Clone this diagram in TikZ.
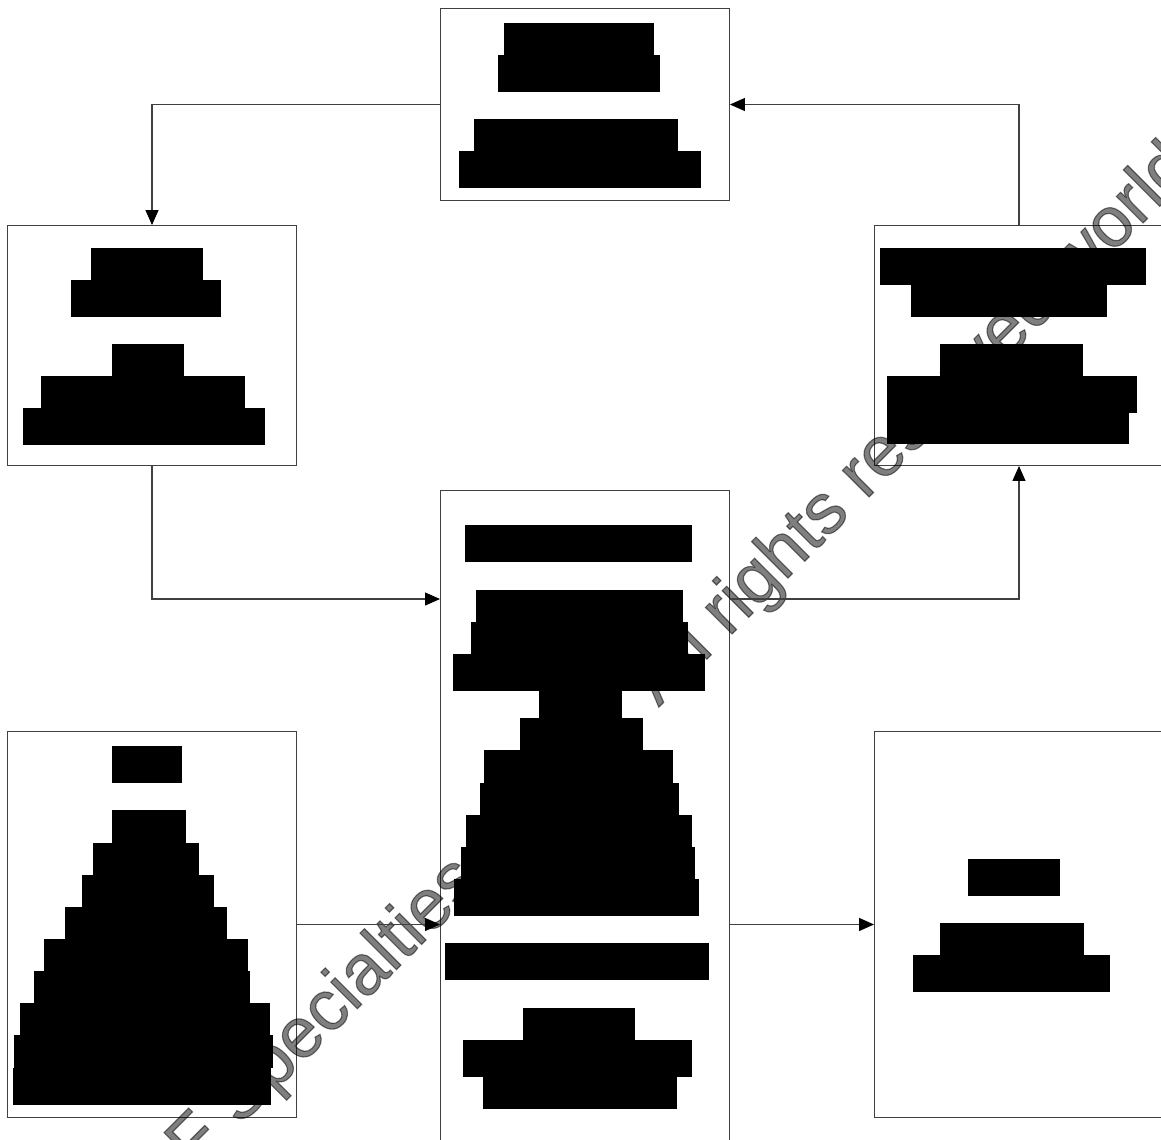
\documentclass[tikz,border=0pt]{standalone}
\usepackage{fontspec}
\usepackage{tikz}
\usetikzlibrary{
  arrows.meta,
  calc
}
\newfontfamily\wmfont[FakeBold=1.6]{Liberation Sans}

\begin{document}
\begin{tikzpicture}[
  x=0.02cm, y=-0.02cm,
  >={Triangle[length=8.5pt, width=7.4pt, color=black]},
  box/.style={draw=black!75, line width=0.6pt, fill=white, anchor=north west,
              inner sep=0pt, minimum width=5.78cm, minimum height=#1},
  box/.default=4.8cm,
  redact/.style={fill=black},
  arr/.style={->, draw=black!75, line width=0.6pt},
  wmark/.style={font=\wmfont\fontsize{40.5}{48}\selectfont, text=black,
                text opacity=0.5, inner sep=0pt, rotate=45, anchor=base west},
]
  \useasboundingbox (0,0) rectangle (1161,1140);
  \clip (0,0) rectangle (1161,1140);
  \fill[white] (0,0) rectangle (1161,1140);

  \node[box=3.84cm] (top) at (440,8) {};
  \node[box] (left) at (7,225) {};
  \node[box] (right) at (874,225) {};
  \node[box=13.6cm] (mid) at (440,490) {};
  \node[box=7.72cm] (bl) at (7,731) {};
  \node[box=7.72cm] (br) at (874,731) {};

  % watermark across the page
  \node[wmark] (wm) at (158,1208) {CF Specialties, L.L.C. All rights reserved worldwide};

  % redacted text lines
  \foreach \a/\b/\c/\d in {504/23/654/55, 498/55/660/92, 474/119/678/151, 459/151/701/188}
    \fill[redact] (\a,\b) rectangle (\c,\d);
  \foreach \a/\b/\c/\d in {91/248/203/280, 71/280/221/317, 112/344/184/376,
                           41/376/245/408, 23/408/265/445}
    \fill[redact] (\a,\b) rectangle (\c,\d);
  \foreach \a/\b/\c/\d in {880/248/1146/285, 911/285/1107/317, 940/344/1083/376,
                           887/376/1137/413, 887/413/1129/444}
    \fill[redact] (\a,\b) rectangle (\c,\d);
  \foreach \a/\b/\c/\d in {465/525/692/562, 476/590/683/622, 471/622/688/654,
                           453/654/705/691, 539/691/622/718, 520/718/643/750,
                           484/750/673/783, 480/783/679/815, 466/815/692/847,
                           461/847/695/879, 454/879/699/916, 445/943/709/980,
                           523/1008/635/1040, 463/1040/692/1077, 483/1077/677/1109}
    \fill[redact] (\a,\b) rectangle (\c,\d);
  \foreach \a/\b/\c/\d in {112/746/182/783, 112/810/186/843, 93/843/199/875,
                           82/875/214/907, 65/907/227/939, 44/939/248/971,
                           34/971/250/1003, 20/1003/270/1035, 14/1035/273/1068,
                           13/1068/271/1105}
    \fill[redact] (\a,\b) rectangle (\c,\d);
  \foreach \a/\b/\c/\d in {968/859/1060/896, 940/923/1084/955, 913/955/1110/992}
    \fill[redact] (\a,\b) rectangle (\c,\d);

  % loop connectors
  \coordinate (midin) at ($(mid.north west)+(0,109)$);
  \coordinate (midout) at ($(mid.north east)+(0,109)$);
  \draw[arr] (top.west) -| (left.north);
  \draw[arr] (left.south) |- (midin);
  \draw[arr] (midout) -| (right.south);
  \draw[arr] (right.north) |- (top.east);

  % bottom row
  \draw[arr] (bl.east) -- (bl.east -| mid.west);
  \draw[arr] (bl.east -| mid.east) -- (br.west);
\end{tikzpicture}
\end{document}
